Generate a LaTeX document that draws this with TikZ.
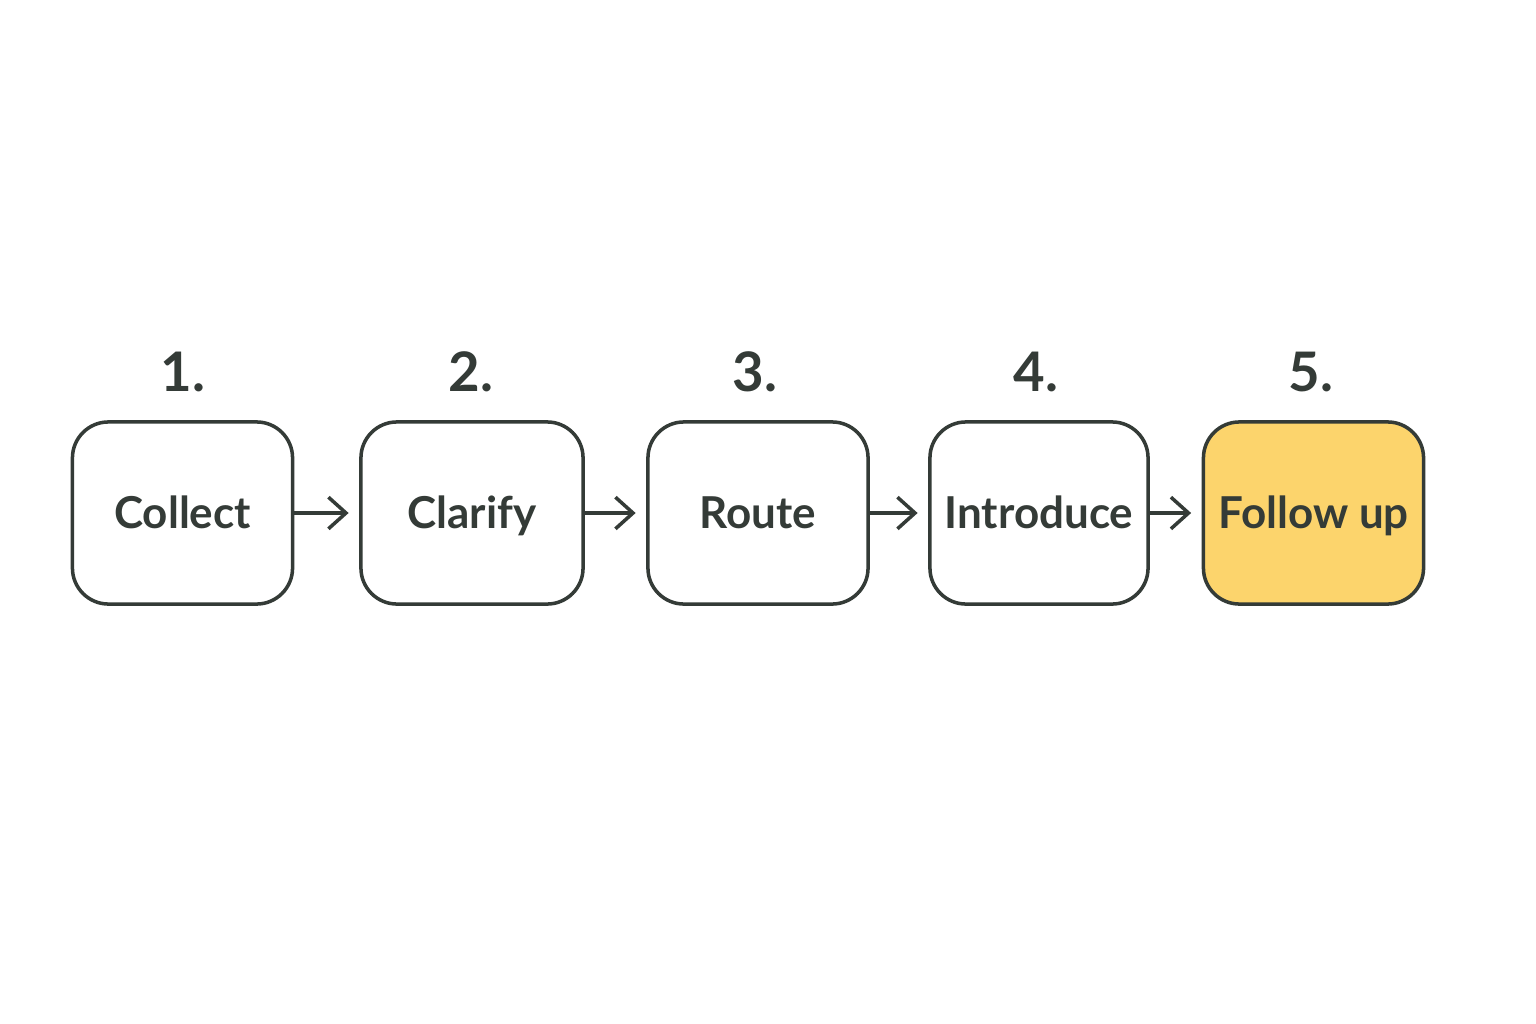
\documentclass[tikz,border=0pt]{standalone}
\usepackage{fontspec}
\setmainfont{Lato}
\usetikzlibrary{arrows.meta}
\definecolor{ink}{HTML}{343B37}
\definecolor{gold}{HTML}{FCD46C}
\tikzset{
  stage/.style={draw=ink,line width=1pt,rounded corners=0.36cm,inner sep=0pt,minimum width=2.2cm,minimum height=1.82cm,text height=9pt,text depth=0pt,fill=white,text=ink,font=\fontsize{12.5}{15}\selectfont\bfseries},
  num/.style={text=ink,font=\fontsize{15.5}{18}\selectfont\bfseries},
  flow/.style={draw=ink,line width=1pt,-{Straight Barb[length=5pt,width=9pt,line width=1pt]},shorten >=3pt}
}
\begin{document}
\begin{tikzpicture}[x=0.01cm,y=-0.01cm]
\useasboundingbox (0,0) rectangle (1536,1024);
\fill[white] (0,0) rectangle (1536,1024);

\node[stage] (collect) at (182.5,513) {Collect};
\node[stage,minimum width=2.22cm] (clarify) at (472,513) {Clarify};
\node[stage] (route) at (758,513) {Route};
\node[stage,minimum width=2.18cm] (introduce) at (1039,513) {Introduce};
\node[stage,fill=gold] (followup) at (1313.5,513) {Follow up};

\node[num] (n1) at (183,372) {1.};
\node[num] (n2) at (471,372) {2.};
\node[num] (n3) at (755,372) {3.};
\node[num] (n4) at (1036,372) {4.};
\node[num] (n5) at (1311,372) {5.};

\draw[flow] (collect) -- (clarify);
\draw[flow] (clarify) -- (route);
\draw[flow] (route) -- (introduce);
\draw[flow] (introduce) -- (followup);
\end{tikzpicture}
\end{document}
